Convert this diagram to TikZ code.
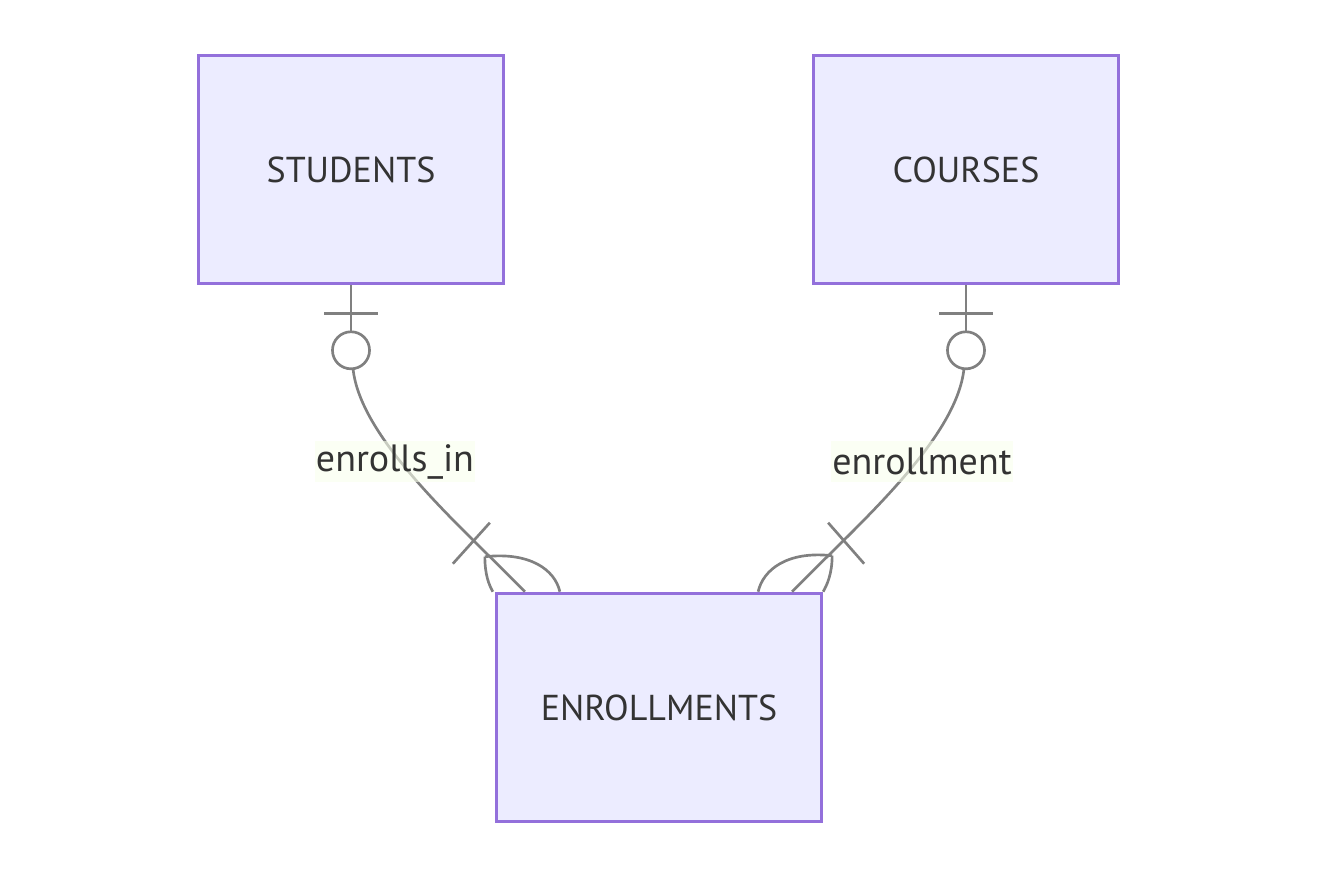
\documentclass[tikz,border=0pt]{standalone}
\usepackage{fontspec}
\setmainfont{PT Sans}
\usetikzlibrary{calc,positioning}
\definecolor{entborder}{HTML}{9370DB}
\definecolor{entfill}{HTML}{ECECFF}
\definecolor{relgray}{HTML}{808080}
\definecolor{lblfill}{HTML}{F9FFEC}
\definecolor{txt}{HTML}{333333}

\begin{document}
\begin{tikzpicture}[x=0.75pt,y=-0.75pt,
    entity/.style={draw=entborder, fill=entfill, line width=2.2pt,
      minimum width=229pt, minimum height=171.5pt, inner sep=0pt,
      text=txt, font=\fontsize{27}{31}\selectfont},
    wide/.style={minimum width=244pt},
    rel/.style={draw=relgray, line width=2pt},
    lbl/.style={fill=lblfill, fill opacity=0.6, text opacity=1, text=txt,
      inner xsep=1pt, inner ysep=0pt, minimum height=30.5pt,
      font=\fontsize{28.5}{32}\selectfont}]
    \useasboundingbox (0,0) rectangle (1318,892);

    % entities
    \node[entity] (stu) at (351,169.5) {STUDENTS};
    \node[entity] (crs) at (966,169.5) {COURSES};
    \node[entity, wide] (enr) at (659,707.5) {ENROLLMENTS};

    % points on the edges
    \coordinate (stu-o) at ($(stu.south)+(0,65)$);
    \coordinate (crs-o) at ($(crs.south)+(0,65)$);
    \coordinate (enr-l) at ($(enr.north west)+(-10,-35)$);
    \coordinate (enr-r) at ($(enr.north east)+(9,-36)$);

    % STUDENTS -- ENROLLMENTS
    \draw[rel] (stu.south) -- ++(0,47);
    \draw[rel] ($(stu.south)+(-27,28)$) -- ++(54,0);
    \draw[rel] (stu-o) circle[radius=13.9pt];
    \draw[rel] ($(stu-o)+(2,18)$) .. controls +(7,72) and +(-60,-62) .. ($(enr.north west)+(30,0)$);
    \draw[rel] ($(enr-l)+(-32,7)$) -- ++(37,-41);
    \draw[rel] (enr-l) .. controls +(0,18) and +(-4,-7) .. ($(enr.north west)+(-2,0)$);
    \draw[rel] (enr-l) .. controls +(45,-5) and +(-5,-22) .. ($(enr.north west)+(65,0)$);

    % COURSES -- ENROLLMENTS
    \draw[rel] (crs.south) -- ++(0,47);
    \draw[rel] ($(crs.south)+(-27,28)$) -- ++(54,0);
    \draw[rel] (crs-o) circle[radius=13.9pt];
    \draw[rel] ($(crs-o)+(-2,18)$) .. controls +(-7,72) and +(60,-62) .. ($(enr.north east)+(-31,0)$);
    \draw[rel] ($(enr-r)+(-4,-33)$) -- ++(36,41);
    \draw[rel] (enr-r) .. controls +(0,18) and +(4,-7) .. (enr.north east);
    \draw[rel] (enr-r) .. controls +(-45,-5) and +(5,-22) .. ($(enr.north east)+(-65,0)$);

    % labels
    \node[lbl] (lbl-stu) at (395,461.5) {enrolls\_in};
    \node[lbl] (lbl-crs) at (922,461.5) {enrollment};
\end{tikzpicture}
\end{document}
